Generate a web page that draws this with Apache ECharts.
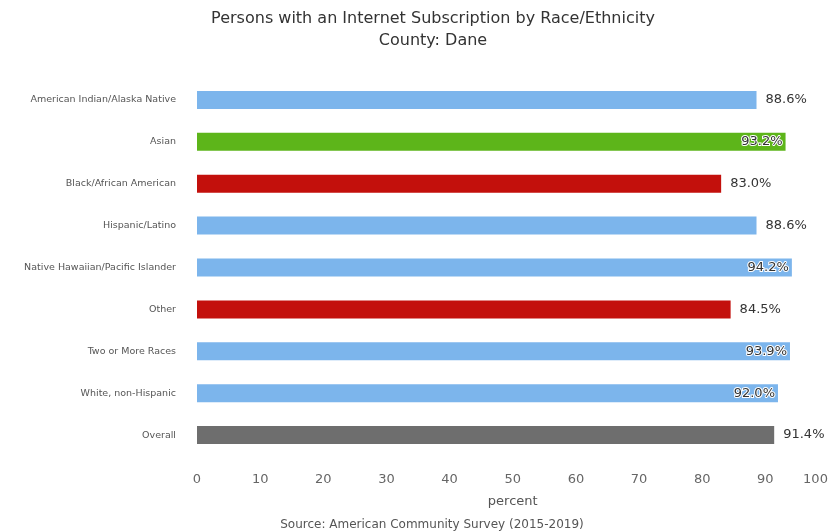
<!DOCTYPE html>
<html>
<head>
<meta charset="utf-8">
<script src="https://cdn.jsdelivr.net/npm/echarts@6/dist/echarts.min.js"></script>
<style>html,body{margin:0;padding:0;background:#fff}#c{width:833px;height:532px}</style>
</head>
<body>
<div id="c"></div>
<script>
const categories = ["American Indian/Alaska Native","Asian","Black/African American","Hispanic/Latino","Native Hawaiian/Pacific Islander","Other","Two or More Races","White, non-Hispanic","Overall"];
const values = [88.6, 93.2, 83.0, 88.6, 94.2, 84.5, 93.9, 92.0, 91.4];
const groups = ["normal","high","low","normal","normal","low","normal","normal","overall"];
const tickValues = [0,10,20,30,40,50,60,70,80,90,100];

const palette = {normal:"#7cb5ec", high:"#5db51a", low:"#c3100c", overall:"#6e6e6e"};

const chart = echarts.init(document.getElementById('c'), null, {renderer:'canvas'});
const font = "'DejaVu Sans', sans-serif";
const data = values.map((v,i)=>{
  const inside = v >= 91.9;
  return {
    value: v,
    itemStyle: {color: palette[groups[i]]},
    label: inside ? {position:'insideRight', distance:3, color:'#333', textBorderColor:'#fff', textBorderWidth:2}
                  : {position:'right', distance:9, color:'#333'}
  };
});
chart.setOption({
  animation:false,
  title:[{
    text:"Persons with an Internet Subscription by Race/Ethnicity\nCounty: Dane",
    left:428, top:3, textAlign:'center',
    textStyle:{fontFamily:font, fontSize:16, fontWeight:'normal', color:'#333', lineHeight:22}
  },{
    text:"Source: American Community Survey (2015-2019)",
    left:427, top:514, textAlign:'center',
    textStyle:{fontFamily:font, fontSize:12, fontWeight:'normal', color:'#555'}
  }],
  grid:{left:197, right:4.5, top:79, bottom:76, containLabel:false},
  xAxis:{
    type:'value', min:0, max:100, interval:10,
    axisLine:{show:false}, axisTick:{show:false}, splitLine:{show:false},
    axisLabel:{fontFamily:font, fontSize:13, color:'#666', margin:17,
      formatter:(v)=> v===100 ? '{last|100}' : String(v),
      rich:{last:{fontFamily:font, fontSize:13, color:'#666', padding:[0,26,0,0]}}},
    name:'percent', nameLocation:'middle', nameGap:39,
    nameTextStyle:{fontFamily:font, fontSize:13, color:'#555'}
  },
  yAxis:{
    type:'category', data:categories, inverse:true,
    axisLine:{show:false}, axisTick:{show:false},
    axisLabel:{fontFamily:font, fontSize:9.5, color:'#555', margin:21}
  },
  series:[{
    type:'bar', data:data, barWidth:18,
    label:{show:true, fontFamily:font, fontSize:13, formatter:(p)=>p.value.toFixed(1)+'%'}
  }]
});
</script>
</body>
</html>
